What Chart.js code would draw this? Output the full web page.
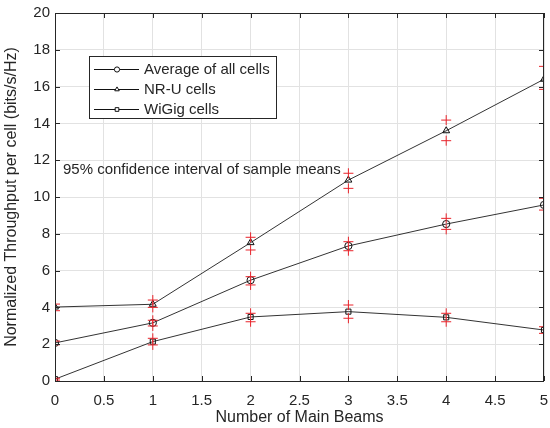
<!DOCTYPE html>
<html>
<head>
<meta charset="utf-8">
<script src="https://cdn.jsdelivr.net/npm/chart.js"></script>
<style>
  html, body { margin: 0; padding: 0; background: #fff; }
  canvas { display: block; }
</style>
</head>
<body>
<canvas id="c" width="550" height="428"></canvas>
<script>
// Number of main beams (x) and throughput per cell for each group
const beams = [0, 1, 2, 3, 4, 5];

const avgMean = [2.07, 3.16, 5.48, 7.34, 8.53, 9.57];
const avgLo   = [1.97, 2.99, 5.22, 7.08, 8.24, 9.29];
const avgHi   = [2.17, 3.30, 5.67, 7.57, 8.84, 9.93];

const nruMean = [4.02, 4.17, 7.52, 10.92, 13.60, 16.40];
const nruLo   = [3.82, 4.00, 7.12, 10.47, 13.06, 15.85];
const nruHi   = [4.18, 4.40, 7.81, 11.29, 14.18, 17.10];

const wgMean  = [0.10, 2.14, 3.48, 3.77, 3.46, 2.77];
const wgLo    = [0.05, 1.96, 3.22, 3.41, 3.22, 2.59];
const wgHi    = [0.15, 2.32, 3.68, 4.13, 3.68, 2.95];

const xTicks = [0, 0.5, 1, 1.5, 2, 2.5, 3, 3.5, 4, 4.5, 5];
const yTicks = [0, 2, 4, 6, 8, 10, 12, 14, 16, 18, 20];
const note = '95% confidence interval of sample means';

const INK = '#262626';
const FONT = '"Liberation Sans", Arial, Helvetica, sans-serif';

const pts = ys => beams.map((x, i) => ({ x, y: ys[i] }));

function series(label, ys, style) {
  return {
    label, data: pts(ys), main: true, order: 2,
    borderColor: '#333', borderWidth: 1, showLine: true,
    pointStyle: style, pointRadius: style === 'triangle' ? 4 : 3.6,
    pointBorderColor: '#111', pointBackgroundColor: 'rgba(0,0,0,0)', pointBorderWidth: 1,
  };
}
function ci(ys) {
  return {
    data: pts(ys), order: 0, showLine: false,
    pointStyle: 'cross', pointRadius: 5, pointBorderWidth: 1,
    pointBorderColor: '#e8232a', pointBackgroundColor: '#e8232a',
  };
}

// Box around the plot, inward ticks on all four sides, the legend and the note.
const matlabBox = {
  id: 'matlabBox',
  afterDraw(chart) {
    const { ctx, chartArea: a, scales: { x, y } } = chart;
    ctx.save();
    ctx.strokeStyle = INK; ctx.lineWidth = 1;
    ctx.strokeRect(a.left + 0.5, a.top + 0.5, a.right - a.left - 1, a.bottom - a.top);
    ctx.beginPath();
    xTicks.forEach(v => {
      const px = Math.round(x.getPixelForValue(v)) + 0.5;
      ctx.moveTo(px, a.bottom); ctx.lineTo(px, a.bottom - 5);
      ctx.moveTo(px, a.top); ctx.lineTo(px, a.top + 5);
    });
    yTicks.forEach(v => {
      const py = Math.round(y.getPixelForValue(v)) + 0.5;
      ctx.moveTo(a.left, py); ctx.lineTo(a.left + 5, py);
      ctx.moveTo(a.right, py); ctx.lineTo(a.right - 5, py);
    });
    ctx.stroke();

    // legend
    const lx = a.left + 34, ly = a.top + 43, lw = 187, lh = 62;
    ctx.fillStyle = '#fff';
    ctx.fillRect(lx, ly, lw, lh);
    ctx.strokeStyle = INK;
    ctx.strokeRect(lx + 0.5, ly + 0.5, lw, lh);
    ctx.font = '15px ' + FONT;
    ctx.textBaseline = 'middle';
    chart.data.datasets.filter(d => d.main).forEach((d, i) => {
      const cy = ly + 13 + i * 20;
      ctx.strokeStyle = '#111';
      ctx.beginPath(); ctx.moveTo(lx + 5, cy + 0.5); ctx.lineTo(lx + 50, cy + 0.5); ctx.stroke();
      ctx.fillStyle = '#fff';
      Chart.helpers.drawPoint(ctx, { pointStyle: d.pointStyle, radius: 2.6, borderWidth: 1 }, lx + 28, cy + 0.5);
      ctx.fillStyle = INK;
      ctx.fillText(d.label, lx + 55, cy + 1);
    });

    ctx.fillStyle = INK;
    ctx.fillText(note, a.left + 8, 170);
    ctx.restore();
  }
};

new Chart(document.getElementById('c'), {
  type: 'scatter',
  data: {
    datasets: [
      series('Average of all cells', avgMean, 'circle'),
      series('NR-U cells', nruMean, 'triangle'),
      series('WiGig cells', wgMean, 'rect'),
      ci(avgLo), ci(avgHi), ci(nruLo), ci(nruHi), ci(wgLo), ci(wgHi),
    ]
  },
  options: {
    responsive: false,
    animation: false,
    layout: { padding: { top: 13, right: 2, left: 0, bottom: 0 } },
    plugins: { legend: { display: false }, tooltip: { enabled: false } },
    elements: { line: { tension: 0 } },
    scales: {
      x: {
        type: 'linear', min: 0, max: 5,
        afterBuildTicks: s => { s.ticks = xTicks.map(v => ({ value: v })); },
        afterFit: s => { s.height = 47; s.paddingLeft = 0; s.paddingRight = 0; },
        grid: { color: '#e2e2e2', drawTicks: false },
        border: { display: false },
        ticks: { padding: 11, color: INK, font: { family: FONT, size: 15 }, callback: v => String(v) },
        title: { display: true, text: 'Number of Main Beams', color: INK,
                 font: { family: FONT, size: 16 }, padding: { top: 0, bottom: 1 } },
      },
      y: {
        type: 'linear', min: 0, max: 20,
        afterBuildTicks: s => { s.ticks = yTicks.map(v => ({ value: v })); },
        afterFit: s => { s.width = 55; s.paddingTop = 0; s.paddingBottom = 0; },
        grid: { color: '#e2e2e2', drawTicks: false },
        border: { display: false },
        ticks: { padding: 5, color: INK, font: { family: FONT, size: 15 }, callback: v => String(v) },
        title: { display: true, text: 'Normalized Throughput per cell (bits/s/Hz)', color: INK,
                 font: { family: FONT, size: 16 }, padding: { top: 2, bottom: 0 } },
      },
    },
  },
  plugins: [matlabBox],
});
</script>
</body>
</html>
